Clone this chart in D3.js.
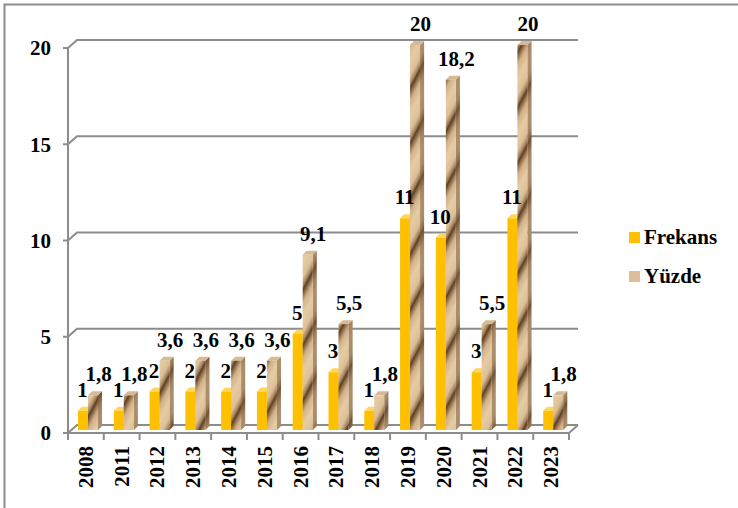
<!DOCTYPE html>
<html><head><meta charset="utf-8">
<script src="https://cdn.jsdelivr.net/npm/d3@7"></script>
<style>body{margin:0;background:#fff}svg{display:block}text{font-family:"Liberation Serif","Times New Roman",serif;font-weight:bold;fill:#000}</style>
</head><body>
<svg id="c" width="738" height="508"></svg>
<script>
const years = ["2008","2011","2012","2013","2014","2015","2016","2017","2018","2019","2020","2021","2022","2023"];
const frekans = [1,1,2,2,2,2,5,3,1,11,10,3,11,1];
const yuzde = [1.8,1.8,3.6,3.6,3.6,3.6,9.1,5.5,1.8,20,18.2,5.5,20,1.8];
const yuzdeLabels = ["1,8","1,8","3,6","3,6","3,6","3,6","9,1","5,5","1,8","20","18,2","5,5","20","1,8"];
const seriesNames = ["Frekans","Yüzde"];
const yTicks = [0,5,10,15,20];

const svg = d3.select("#c");
const defs = svg.append("defs");
const g1 = defs.append("linearGradient").attr("id","woodGrad").attr("x1","0").attr("y1","0").attr("x2","1").attr("y2","0");
[[0,"#e6cca4"],[0.3,"#dcbf96"],[0.45,"#a07e58"],[0.52,"#5a3f26"],[0.6,"#8b6a47"],[0.75,"#d2b189"],[1,"#e6cca4"]]
  .forEach(([o,c])=>g1.append("stop").attr("offset",o).attr("stop-color",c));
const pat = defs.append("pattern").attr("id","wood").attr("patternUnits","userSpaceOnUse")
  .attr("width",26).attr("height",60).attr("patternTransform","rotate(28)");
pat.append("rect").attr("width",26).attr("height",60).attr("fill","url(#woodGrad)");

const gray = "#8c8c8c";
svg.append("rect").attr("x",4.5).attr("y",4.5).attr("width",800).attr("height",600)
  .attr("fill","none").attr("stroke",gray).attr("stroke-width",2);

const x0 = d3.scaleBand().domain(years).range([68,569]);
const x1 = d3.scaleBand().domain(seriesNames).range([8,28]);
const y = d3.scaleLinear().domain([0,20]).range([433,48]);
const DX = 9, DY = -8;

const grid = svg.append("g");
yTicks.forEach(t=>{
  grid.append("path").attr("d",`M63,${y(t)}L68,${y(t)}L${68+DX},${y(t)+DY}L${569+DX},${y(t)+DY}`)
    .attr("fill","none").attr("stroke",gray).attr("stroke-width",2);
});
grid.append("line").attr("x1",68).attr("x2",68).attr("y1",y(20)).attr("y2",y(0)+7)
  .attr("stroke",gray).attr("stroke-width",2);
grid.append("path").attr("d",`M68,${y(0)}L569,${y(0)}L${569+DX},${y(0)+DY}`)
  .attr("fill","none").attr("stroke",gray).attr("stroke-width",2);
years.forEach((yr,i)=>{
  const xx = x0(yr);
  if(i>0) grid.append("line").attr("x1",xx).attr("x2",xx).attr("y1",y(0)).attr("y2",y(0)+7).attr("stroke",gray).attr("stroke-width",2);
});
grid.append("line").attr("x1",569).attr("x2",569).attr("y1",y(0)).attr("y2",y(0)+7).attr("stroke",gray).attr("stroke-width",2);

svg.append("g").selectAll("text").data(yTicks).join("text")
  .attr("x",51).attr("y",d=>y(d)).attr("dy","0.35em").attr("text-anchor","end")
  .attr("font-size",21).text(d=>d);

const bx = 2, by = -3, dd = 4;
const barsG = svg.append("g");
const styles = {
  Frekans:{front:"#FFC000", side:"#d9a000", top:"#ffd55a", lx:-0.5},
  "Yüzde":{front:"url(#wood)", side:"#7d5f40", top:"#d8ba92", lx:5.5}
};
years.forEach((yr,i)=>{
  [["Frekans",frekans[i],String(frekans[i])],["Yüzde",yuzde[i],yuzdeLabels[i]]].forEach(([s,v,lab])=>{
    const xl = x0(yr)+x1(s)+bx, w = x1.bandwidth();
    const yt = y(v)+by, yb = y(0)+by;
    const st = styles[s];
    const g = barsG.append("g");
    const side = `M${xl+w},${yt}L${xl+w+dd},${yt-dd}L${xl+w+dd},${yb-dd}L${xl+w},${yb}Z`;
    g.append("path").attr("d",side).attr("fill",st.side);
    if(s==="Yüzde") g.append("path").attr("d",side).attr("fill","url(#wood)").attr("opacity",0.45);
    g.append("path").attr("d",`M${xl},${yt}L${xl+dd},${yt-dd}L${xl+w+dd},${yt-dd}L${xl+w},${yt}Z`).attr("fill",st.top);
    g.append("rect").attr("x",xl).attr("y",yt).attr("width",w).attr("height",yb-yt).attr("fill",st.front);
    svg.append("text").attr("x",xl+w/2+st.lx).attr("y",yt-14).attr("text-anchor","middle")
      .attr("font-size",21).text(lab);
  });
});

svg.append("g").selectAll("text").data(years).join("text")
  .attr("transform",d=>`translate(${x0(d)+x0.bandwidth()/2+7},446) rotate(-90)`)
  .attr("text-anchor","end").attr("font-size",21).text(d=>d);

const leg = svg.append("g");
[["Frekans","#FFC000",232],["Yüzde","#dcbf98",271]].forEach(([n,c,yy])=>{
  leg.append("rect").attr("x",629).attr("y",yy).attr("width",11).attr("height",11).attr("fill",c);
  leg.append("text").attr("x",644).attr("y",yy+12).attr("font-size",21).text(n);
});
</script>
</body></html>
